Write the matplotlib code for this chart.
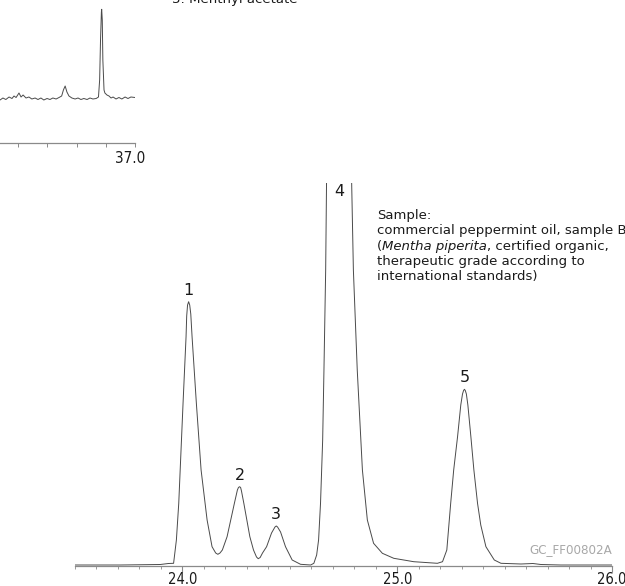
import matplotlib
matplotlib.use("Agg")
import matplotlib.pyplot as plt
from matplotlib.ticker import MultipleLocator, FixedLocator
from matplotlib.transforms import ScaledTranslation

# ---------------- data ----------------
# main chromatogram trace: retention time (min) and detector signal (a.u.)
time_min = [23.50, 23.71, 23.897, 23.935, 23.959, 23.972, 23.983, 24.003, 24.017,
            24.020, 24.024, 24.029, 24.034, 24.039, 24.045, 24.065, 24.087, 24.115,
            24.138, 24.155, 24.165, 24.175, 24.186, 24.208, 24.242, 24.256, 24.261,
            24.266, 24.271, 24.275, 24.286, 24.314, 24.331, 24.345, 24.353, 24.362,
            24.373, 24.392, 24.415, 24.431, 24.437, 24.443, 24.457, 24.480, 24.511,
            24.550, 24.597, 24.612, 24.625, 24.634, 24.643, 24.653, 24.659, 24.667,
            24.671, 24.681, 24.730, 24.779, 24.788, 24.796, 24.814, 24.838, 24.861,
            24.890, 24.931, 24.984, 25.077, 25.187, 25.211, 25.231, 25.249, 25.263,
            25.281, 25.296, 25.304, 25.309, 25.313, 25.317, 25.322, 25.329, 25.343,
            25.357, 25.374, 25.389, 25.413, 25.452, 25.483, 25.576, 25.632, 25.669,
            25.762, 26.00]
signal = [1.0, 1.0, 1.5, 2.5, 2.7, 26.0, 62.7, 162.7, 229.3,
          250.0, 261.0, 264.3, 261.0, 252.0, 229.3, 162.7, 96.0, 46.0,
          19.3, 13.0, 11.7, 13.0, 16.0, 29.3, 62.7, 76.0, 78.5,
          79.3, 78.5, 75.0, 62.7, 29.3, 16.0, 9.0, 7.3, 8.5,
          13.0, 19.3, 33.0, 39.0, 40.0, 39.0, 34.0, 19.3, 6.0,
          1.7, 1.0, 2.7, 11.0, 26.0, 62.7, 126.0, 196.0, 296.0,
          383.0, 700.0, 1000.0, 700.0, 383.0, 296.0, 196.0, 96.0, 46.0,
          22.7, 12.7, 7.7, 4.3, 2.7, 4.3, 16.0, 62.7, 96.0,
          129.3, 161.0, 172.0, 175.5, 176.7, 175.5, 172.0, 161.0, 129.3,
          96.0, 62.7, 41.0, 19.3, 6.0, 2.7, 2.0, 2.5, 1.5,
          1.0, 1.0]

# inset trace (menthyl acetate region)
inset_time = [36.538, 36.548, 36.558, 36.569, 36.579, 36.586, 36.593, 36.603, 36.610,
              36.617, 36.627, 36.637, 36.647, 36.658, 36.668, 36.678, 36.688, 36.699,
              36.709, 36.719, 36.730, 36.740, 36.749, 36.755, 36.761, 36.767, 36.774,
              36.784, 36.795, 36.805, 36.815, 36.825, 36.836, 36.846, 36.856, 36.867,
              36.875, 36.879, 36.882, 36.885, 36.886, 36.888, 36.890, 36.894, 36.897,
              36.904, 36.911, 36.918, 36.925, 36.935, 36.945, 36.955, 36.966, 36.976,
              36.986, 37.000]
inset_signal = [43.0, 45.0, 43.5, 46.0, 44.5, 47.0, 45.5, 50.0, 46.0,
                48.0, 45.0, 46.0, 44.0, 45.0, 43.5, 45.0, 43.0, 44.5,
                43.5, 45.0, 44.0, 45.5, 47.0, 53.0, 57.0, 51.0, 47.0,
                45.0, 44.0, 45.0, 43.5, 44.5, 43.5, 45.0, 44.0, 44.5,
                46.0, 63.0, 103.0, 131.0, 133.7, 123.0, 83.0, 53.0, 50.0,
                48.0, 47.0, 45.0, 46.0, 44.0, 45.5, 44.0, 46.0, 44.5,
                46.0, 45.5]

peak_labels = ["1", "2", "3", "4", "5"]
peak_times = [24.029, 24.266, 24.437, 24.730, 25.313]
peak_heights = [264.3, 79.3, 40.0, 1000.0, 176.7]

main_ticks = [24.0, 25.0, 26.0]
main_tick_labels = ["24.0", "25.0", "26.0"]
inset_ticks = [36.6, 36.7, 36.8, 36.9, 37.0]
inset_tick_labels = ["", "", "", "", "37.0"]

sample_lines = [
    [("Sample:", "normal")],
    [("commercial peppermint oil, sample B", "normal")],
    [("(", "normal"), ("Mentha piperita", "italic"), (", certified organic,", "normal")],
    [("therapeutic grade according to", "normal")],
    [("international standards)", "normal")],
]
inset_title = "3: Menthyl acetate"
code_label = "GC_FF00802A"

# ---------------- styling ----------------
plt.rcParams["font.family"] = ["DejaVu Sans"]
LINE_C = "#4a4a4a"
AXIS_C = "#8a8a8a"
TEXT_C = "#1a1a1a"
COND = dict(family="DejaVu Sans", fontstretch="condensed")

W, H = 625, 586
fig = plt.figure(figsize=(W / 100, H / 100), dpi=100)

def px_axes(x0, y0, x1, y1):
    return fig.add_axes([x0 / W, 1 - y1 / H, (x1 - x0) / W, (y1 - y0) / H])

# ---------------- main chromatogram ----------------
ax = px_axes(75, 183, 612, 566)
ax.plot(time_min, signal, color=LINE_C, lw=0.7, solid_joinstyle="round")
ax.set_xlim(23.5, 26.0)
ax.set_ylim(0, 383)
for s in ("left", "right", "top"):
    ax.spines[s].set_visible(False)
ax.spines["bottom"].set_color(AXIS_C)
ax.spines["bottom"].set_linewidth(0.9)
ax.set_yticks([])
ax.xaxis.set_major_locator(FixedLocator(main_ticks))
ax.set_xticklabels(main_tick_labels, fontsize=10.5, color=TEXT_C, **COND)
ax.xaxis.set_minor_locator(MultipleLocator(0.1))
ax.tick_params(axis="x", which="major", direction="out", length=4, width=0.8,
               color=AXIS_C, pad=0.5)
ax.tick_params(axis="x", which="minor", direction="out", length=2, width=0.6,
               color=AXIS_C)
ax.patch.set_alpha(0)

ytop = ax.get_ylim()[1]
for lab, t, h in zip(peak_labels, peak_times, peak_heights):
    if h >= ytop:
        ax.annotate(lab, (t, ytop), xytext=(0, -1), textcoords="offset points",
                    ha="center", va="top", fontsize=11.5, color=TEXT_C,
                    annotation_clip=False)
    else:
        ax.annotate(lab, (t, h), xytext=(0, 3), textcoords="offset points",
                    ha="center", va="bottom", fontsize=11.5, color=TEXT_C)

# sample description: one text per line, later runs chained to the previous run
y0 = 219
for i, runs in enumerate(sample_lines):
    prev = None
    for txt, style in runs:
        if prev is None:
            prev = fig.text(377 / W, 1 - (y0 + i * 15.3) / H, txt, fontsize=9.5,
                            color=TEXT_C, style=style, ha="left", va="baseline")
        else:
            prev = ax.annotate(txt, xy=(1, 0), xycoords=prev, xytext=(0, 0),
                               textcoords="offset points", fontsize=9.5,
                               color=TEXT_C, style=style, ha="left",
                               va="bottom", annotation_clip=False)

fig.text(612 / W, 1 - 550 / H, code_label, fontsize=9.5, color="#a8a8a8",
         ha="right", va="center", **COND)

# ---------------- inset ----------------
ax2 = px_axes(0, 0, 135, 143)
ax2.plot(inset_time, inset_signal, color=LINE_C, lw=0.7)
ax2.set_xlim(36.538, 37.0)
ax2.set_ylim(0, 143)
for s in ("left", "right", "top"):
    ax2.spines[s].set_visible(False)
ax2.spines["bottom"].set_color(AXIS_C)
ax2.spines["bottom"].set_linewidth(0.9)
ax2.set_yticks([])
ax2.xaxis.set_major_locator(FixedLocator(inset_ticks))
ax2.set_xticklabels(inset_tick_labels, fontsize=11, color=TEXT_C, **COND)
ax2.tick_params(axis="x", direction="out", length=3, width=0.7, color=AXIS_C, pad=3)
shift = ScaledTranslation(-5 / 100, 0, fig.dpi_scale_trans)
for lbl in ax2.get_xticklabels():
    lbl.set_transform(lbl.get_transform() + shift)
ax2.patch.set_alpha(0)

fig.text(172 / W, 1 - 2.5 / H, inset_title, fontsize=9.5, color=TEXT_C,
         ha="left", va="baseline")

fig.savefig("out.png", dpi=100)
